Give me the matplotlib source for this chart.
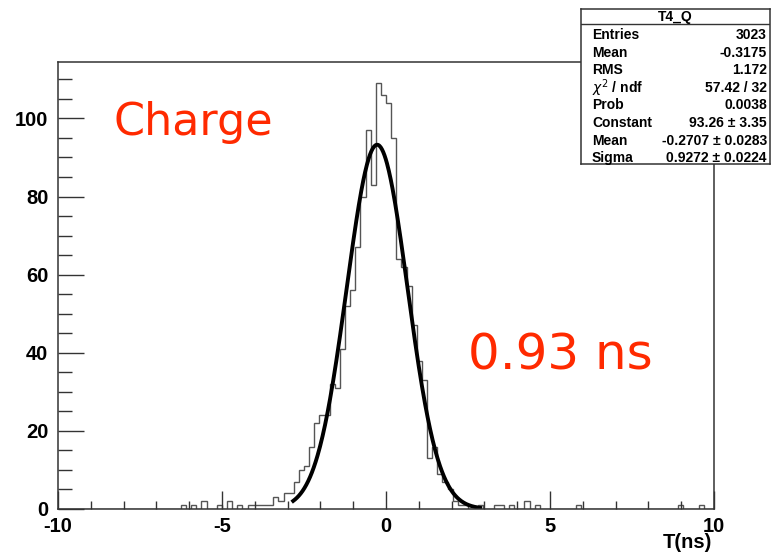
import numpy as np
from matplotlib import pyplot as plt
from matplotlib.ticker import MultipleLocator

plt.rcParams['axes.unicode_minus'] = False

# histogram T4_Q, 128 bins between -10 and 10 ns
x_lo, x_hi, n_bins = -10, 10, 128
counts = [
    0, 0, 0, 0, 0, 0, 0, 0, 0, 0, 0, 0, 0, 0, 0, 0,
    0, 0, 0, 0, 0, 0, 0, 0, 1, 0, 1, 0, 2, 0, 0, 1,
    0, 2, 0, 1, 0, 1, 1, 1, 1, 1, 3, 2, 4, 4, 7, 10,
    11, 16, 22, 24, 24, 32, 31, 41, 52, 56, 67, 80, 97, 83, 109, 106,
    104, 95, 64, 62, 57, 47, 38, 33, 13, 16, 9, 7, 5, 2, 1, 1,
    0, 0, 1, 0, 0, 1, 1, 0, 1, 0, 0, 2, 0, 1, 0, 0,
    0, 0, 0, 0, 0, 1, 0, 0, 0, 0, 0, 0, 0, 0, 0, 0,
    0, 0, 0, 0, 0, 0, 0, 0, 0, 1, 0, 0, 0, 1, 0, 0,
]

# gaus fit results (from the stat box)
fit_const, fit_mean, fit_sigma = 93.26, -0.2707, 0.9272
fit_range = (-2.83, 2.87)

stat_labels = ['Entries', 'Mean', 'RMS', r'$\chi^2$ / ndf', 'Prob',
               'Constant', 'Mean', 'Sigma']
stat_values = ['3023', '-0.3175', '1.172', '57.42 / 32', '0.0038',
               '93.26 \u00b1 3.35', '-0.2707 \u00b1 0.0283', '0.9272 \u00b1 0.0224']

W, H = 772, 556
fig = plt.figure(figsize=(W / 100, H / 100), dpi=100)
ax = fig.add_axes([58 / W, 1 - 509 / H, (714 - 58) / W, (509 - 62) / H])

edges = np.linspace(x_lo, x_hi, n_bins + 1)
ax.stairs(counts, edges, color='#555555', lw=1.0)

xf = np.linspace(fit_range[0], fit_range[1], 300)
yf = fit_const * np.exp(-0.5 * ((xf - fit_mean) / fit_sigma) ** 2)
ax.plot(xf, yf, color='black', lw=2.8)

ax.set_xlim(x_lo, x_hi)
ax.set_ylim(0, 1.05 * max(counts))

ax.xaxis.set_major_locator(MultipleLocator(5))
ax.xaxis.set_minor_locator(MultipleLocator(1))
ax.yaxis.set_major_locator(MultipleLocator(20))
ax.yaxis.set_minor_locator(MultipleLocator(5))
ax.tick_params(which='both', direction='in', color='#333333', width=1.0,
               top=False, right=False)
ax.tick_params(axis='y', which='major', length=19, pad=7)
ax.tick_params(axis='y', which='minor', length=10)
ax.tick_params(axis='x', which='major', length=13, pad=6)
ax.tick_params(axis='x', which='minor', length=6)
for lab in ax.get_xticklabels() + ax.get_yticklabels():
    lab.set_fontfamily('Liberation Sans')
    lab.set_fontweight('bold')
    lab.set_fontsize(14.5)
for sp in ax.spines.values():
    sp.set_color('#333333')
    sp.set_linewidth(1.1)

fig.text(712 / W, 1 - 543 / H, 'T(ns)', ha='right', va='center',
         family='Liberation Sans', weight='bold', fontsize=14.5)

fig.text(113 / W, 1 - 122 / H, 'Charge', color='#ff2a00', fontsize=32,
         ha='left', va='center')
fig.text(468 / W, 1 - 355 / H, '0.93 ns', color='#ff2a00', fontsize=36,
         ha='left', va='center')

# stat box
sb = fig.add_axes([581 / W, 1 - 164 / H, (770 - 581) / W, (164 - 9) / H])
sb.set_xticks([])
sb.set_yticks([])
sb.set_xlim(581, 770)
sb.set_ylim(164, 9)
for sp in sb.spines.values():
    sp.set_color('#333333')
    sp.set_linewidth(1.1)
sb.axhline(24, color='#333333', lw=1.0)
sb.text(675, 16.5, 'T4_Q', ha='center', va='center', family='Liberation Sans',
        weight='bold', fontsize=10)
for i, (lab, val) in enumerate(zip(stat_labels, stat_values)):
    y = 35 + i * 17.6
    sb.text(592, y, lab, ha='left', va='center', family='Liberation Sans',
            weight='bold', fontsize=10)
    sb.text(767, y, val, ha='right', va='center', family='Liberation Sans',
            weight='bold', fontsize=10)

fig.savefig('out.png', dpi=100)
